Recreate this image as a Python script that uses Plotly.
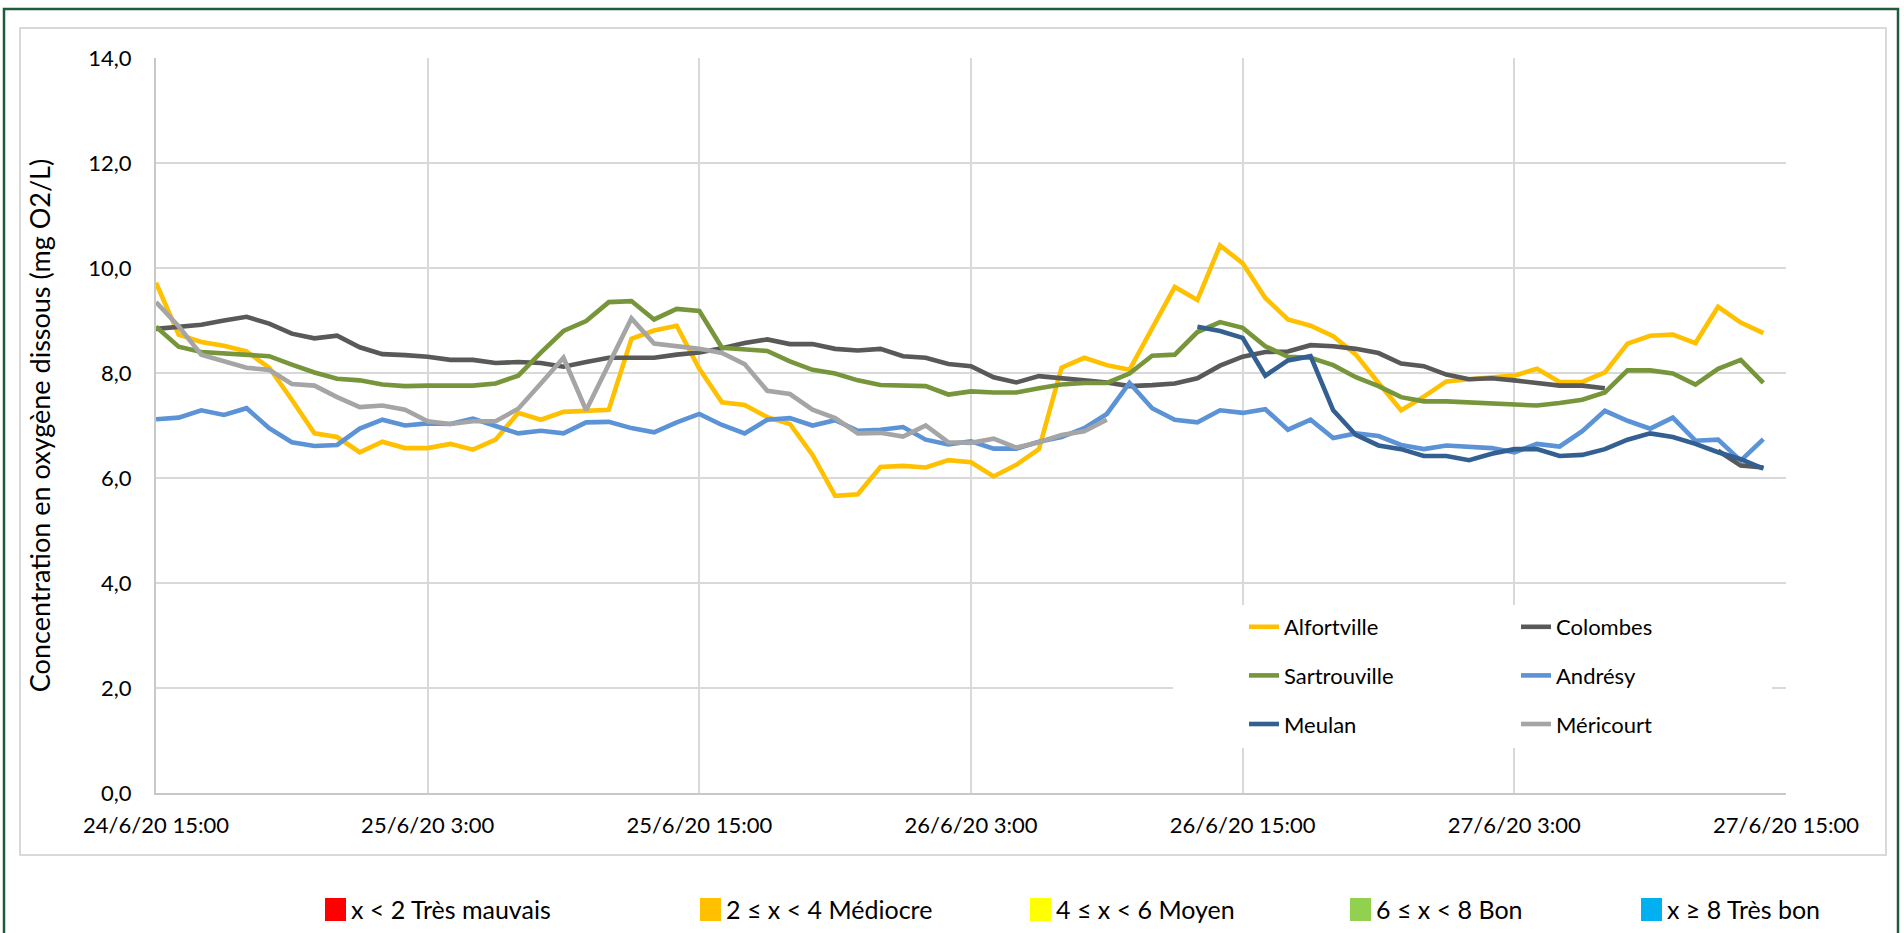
import plotly.graph_objects as go
import pandas as pd

# ---------------- data ----------------
start_time = "2020-06-24 15:00"
timestamps = pd.date_range(start_time, periods=72, freq="h")

x_tick_positions = pd.date_range(start_time, periods=7, freq="12h")
x_tick_labels = ["24/6/20 15:00", "25/6/20 3:00", "25/6/20 15:00", "26/6/20 3:00",
                 "26/6/20 15:00", "27/6/20 3:00", "27/6/20 15:00"]

alfortville = [9.72, 8.73, 8.59, 8.52, 8.41, 8.10, 7.49, 6.85, 6.78, 6.49, 6.69, 6.57,
               6.57, 6.65, 6.54, 6.73, 7.24, 7.11, 7.26, 7.29, 7.30, 8.65, 8.81, 8.90,
               8.08, 7.44, 7.39, 7.16, 7.03, 6.44, 5.66, 5.69, 6.21, 6.23, 6.20, 6.34,
               6.30, 6.03, 6.25, 6.55, 8.10, 8.29, 8.15, 8.06, 8.83, 9.64, 9.39, 10.43,
               10.09, 9.43, 9.02, 8.90, 8.70, 8.35, 7.81, 7.29, 7.55, 7.84, 7.88, 7.92,
               7.95, 8.08, 7.83, 7.83, 8.01, 8.56, 8.71, 8.73, 8.57, 9.26, 8.96, 8.76]

colombes = [8.84, 8.89, 8.92, 9.00, 9.07, 8.94, 8.75, 8.66, 8.71, 8.49, 8.36, 8.34,
            8.31, 8.25, 8.25, 8.19, 8.21, 8.19, 8.12, 8.21, 8.29, 8.29, 8.29, 8.35,
            8.39, 8.47, 8.57, 8.64, 8.55, 8.55, 8.46, 8.43, 8.46, 8.32, 8.29, 8.17,
            8.13, 7.92, 7.82, 7.94, 7.89, 7.86, 7.82, 7.75, 7.77, 7.80, 7.90, 8.14,
            8.31, 8.40, 8.41, 8.53, 8.51, 8.46, 8.38, 8.18, 8.13, 7.97, 7.88, 7.90,
            7.86, 7.81, 7.76, 7.76, 7.71, None, None, None, None, 6.52, 6.24, 6.20]

sartrouville = [8.88, 8.50, 8.40, 8.38, 8.34, 8.32, 8.16, 8.01, 7.89, 7.86, 7.78, 7.75,
                7.76, 7.76, 7.76, 7.80, 7.95, 8.39, 8.80, 8.99, 9.35, 9.37, 9.02, 9.22,
                9.18, 8.48, 8.45, 8.42, 8.22, 8.06, 7.99, 7.86, 7.77, 7.77, 7.75, 7.59,
                7.65, 7.63, 7.63, 7.71, 7.78, 7.81, 7.81, 7.99, 8.33, 8.35, 8.78, 8.97,
                8.86, 8.51, 8.31, 8.29, 8.15, 7.92, 7.75, 7.54, 7.46, 7.46, 7.44, 7.44,
                7.41, 7.38, 7.43, 7.49, 7.63, 8.05, 8.05, 7.99, 7.78, 8.08, 8.25, 7.81]

andresy = [7.12, 7.15, 7.29, 7.20, 7.33, 6.95, 6.68, 6.61, 6.63, 6.94, 7.11, 7.00,
           7.04, 7.03, 7.13, 6.98, 6.85, 6.90, 6.85, 7.06, 7.07, 6.95, 6.87, 7.06,
           7.22, 7.01, 6.85, 7.11, 7.14, 7.00, 7.10, 6.90, 6.92, 6.97, 6.73, 6.64,
           6.70, 6.56, 6.56, 6.69, 6.78, 6.95, 7.22, 7.81, 7.33, 7.11, 7.06, 7.29,
           7.24, 7.31, 6.92, 7.11, 6.76, 6.85, 6.80, 6.63, 6.55, 6.62, 6.60, 6.57,
           6.49, 6.65, 6.60, 6.89, 7.28, 7.09, 6.94, 7.15, 6.71, 6.73, 6.33, 6.74]

meulan_start = 46  # first hourly sample available for Meulan
meulan = [8.88, 8.80, 8.67, 7.95, 8.24, 8.32, 7.29, 6.82, 6.62, 6.55, 6.42, 6.42,
          6.34, 6.46, 6.55, 6.55, 6.42, 6.44, 6.55, 6.73, 6.85, 6.78, 6.65, 6.49,
          6.36, 6.18]

mericourt = [9.35, 8.89, 8.35, 8.22, 8.10, 8.06, 7.79, 7.76, 7.54, 7.35, 7.38, 7.30,
             7.08, 7.03, 7.08, 7.08, 7.32, 7.80, 8.29, 7.29, 8.17, 9.04, 8.56, 8.51,
             8.46, 8.38, 8.17, 7.66, 7.60, 7.30, 7.14, 6.85, 6.86, 6.79, 7.00, 6.68,
             6.67, 6.75, 6.58, 6.68, 6.82, 6.89, 7.11]

quality_labels = ["x < 2 Très mauvais", "2 ≤ x < 4 Médiocre", "4 ≤ x < 6 Moyen",
                  "6 ≤ x < 8 Bon", "x ≥ 8 Très bon"]
quality_colors = ["#FF0000", "#FFC000", "#FFFF00", "#92D050", "#00B0F0"]

y_title = "Concentration en oxygène dissous (mg O2/L)"

# ---------------- layout helpers (pixel -> paper) ----------------
W, H = 1904, 933
PL, PR, PT, PB = 156, 1786, 58, 793


def pxx(x):
    return (x - PL) / (PR - PL)


def pxy(y):
    return 1 - (y - PT) / (PB - PT)


FONT = "Lato, 'Open Sans', sans-serif"

series = [
    ("Alfortville", list(timestamps), alfortville, "#FFC000", "legend"),
    ("Colombes", list(timestamps), colombes, "#595959", "legend2"),
    ("Sartrouville", list(timestamps), sartrouville, "#77963B", "legend"),
    ("Andrésy", list(timestamps), andresy, "#5B93D6", "legend2"),
    ("Meulan", list(timestamps[meulan_start:meulan_start + len(meulan)]), meulan, "#335F91", "legend"),
    ("Méricourt", list(timestamps[:len(mericourt)]), mericourt, "#A5A5A5", "legend2"),
]

fig = go.Figure()
for name, xs, ys, color, lg in series:
    fig.add_trace(go.Scatter(
        x=xs, y=ys, mode="lines", name=name,
        line=dict(color=color, width=4.6),
        connectgaps=False, legend=lg, legendgroup=name,
        hoverinfo="skip",
    ))

shapes = []
# outer dark-green frame
shapes.append(dict(type="rect", xref="paper", yref="paper",
                   x0=pxx(4), x1=pxx(1898), y0=pxy(9), y1=pxy(960),
                   line=dict(color="#1F5C3C", width=2.5), fillcolor="rgba(0,0,0,0)", layer="below"))
# chart-area light-grey frame
shapes.append(dict(type="rect", xref="paper", yref="paper",
                   x0=pxx(20), x1=pxx(1886), y0=pxy(28), y1=pxy(855),
                   line=dict(color="#D9D9D9", width=2), fillcolor="rgba(0,0,0,0)", layer="below"))
# white background of the series legend (hides gridlines)
shapes.append(dict(type="rect", xref="paper", yref="paper",
                   x0=pxx(1173), x1=pxx(1772), y0=pxy(748), y1=pxy(605),
                   line=dict(width=0), fillcolor="white", layer="above"))

annotations = []
quality_x = [325, 700, 1030, 1350, 1641]
for lx, lab, col in zip(quality_x, quality_labels, quality_colors):
    shapes.append(dict(type="rect", xref="paper", yref="paper",
                       x0=pxx(lx), x1=pxx(lx + 21), y0=pxy(921), y1=pxy(898),
                       line=dict(width=0), fillcolor=col))
    annotations.append(dict(xref="paper", yref="paper", x=pxx(lx + 24), y=pxy(909),
                            xanchor="left", yanchor="middle", showarrow=False, text=lab,
                            font=dict(family=FONT, size=25, color="#000000")))

legend_common = dict(xanchor="left", yanchor="top", bgcolor="rgba(0,0,0,0)",
                     font=dict(family=FONT, size=22, color="#000000"),
                     traceorder="grouped", tracegroupgap=17, borderwidth=0)

fig.update_layout(
    width=W, height=H,
    margin=dict(l=PL, r=W - PR, t=PT, b=H - PB, autoexpand=False),
    paper_bgcolor="white", plot_bgcolor="white",
    separators=", ",
    showlegend=True,
    legend=dict(x=pxx(1244), y=pxy(606), **legend_common),
    legend2=dict(x=pxx(1516), y=pxy(606), **legend_common),
    xaxis=dict(
        type="date",
        range=[timestamps[0], x_tick_positions[-1]],
        tickmode="array", tickvals=list(x_tick_positions), ticktext=x_tick_labels,
        showgrid=True, gridcolor="#D9D9D9", gridwidth=1.5,
        showline=True, linecolor="#C8C8C8", linewidth=2,
        ticks="", ticklabelstandoff=12, zeroline=False,
        tickfont=dict(family=FONT, size=22, color="#000000"),
    ),
    yaxis=dict(
        range=[0, 14], tick0=0, dtick=2, tickformat=".1f",
        showgrid=True, gridcolor="#D9D9D9", gridwidth=1.5,
        showline=True, linecolor="#C8C8C8", linewidth=2,
        ticks="", ticklabelstandoff=18, zeroline=False,
        tickfont=dict(family=FONT, size=22, color="#000000"),
        title=dict(text=y_title, standoff=30,
                   font=dict(family=FONT, size=27, color="#000000")),
    ),
    shapes=shapes,
    annotations=annotations,
)

fig.write_html("out.html",
               config={"displayModeBar": False},
               post_script="document.body.style.margin='0';document.body.style.overflow='hidden';")
